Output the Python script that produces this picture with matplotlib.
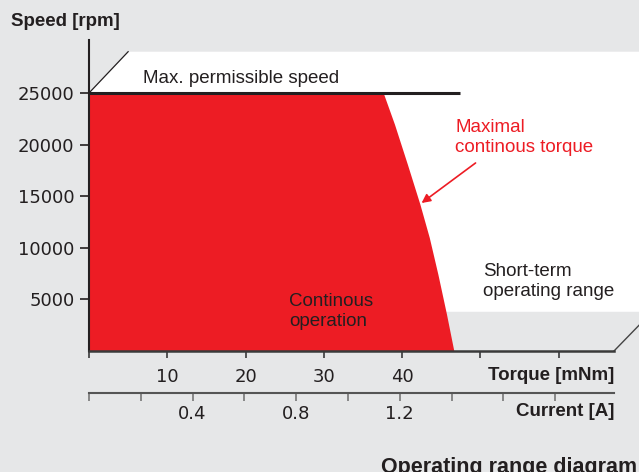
import numpy as np
import matplotlib
matplotlib.use("Agg")
import matplotlib.pyplot as plt

plt.rcParams['font.family'] = ['Liberation Sans', 'DejaVu Sans']

# --- data ---
speed_ticks = [5000, 10000, 15000, 20000, 25000]
speed_labels = ['5000', '10000', '15000', '20000', '25000']
torque_ticks = [0, 10, 20, 30, 40, 50, 60]
torque_labels = ['', '10', '20', '30', '40', '', '']
current_ticks = [0, 0.2, 0.4, 0.6, 0.8, 1.0, 1.2, 1.4, 1.6, 1.8]
current_labels = ['', '', '0.4', '', '0.8', '', '1.2', '', '', '']
torque_per_amp = 33.1  # mNm per A, from the two scales

# continuous operation boundary (torque mNm, speed rpm)
cont_torque = [0, 0, 37.65, 39.1, 40.75, 42.35, 43.55, 44.65, 45.75, 46.68]
cont_speed = [0, 25000, 25000, 21930, 18050, 14180, 10950, 7390, 3520, 0]

max_speed = 25000
max_speed_torque = 47.4

# short-term operating range outline
short_torque = [0, 5, 80, 80, 40]
short_speed = [25000, 29000, 29000, 3800, 3800]

bg = '#e6e7e8'
red = '#ed1c24'
dark = '#231f20'

fig = plt.figure(figsize=(6.39, 4.72), dpi=100, facecolor=bg)
W, H = 639, 472
ax = fig.add_axes([89 / W, (H - 351) / H, (614 - 89) / W, (351 - 40) / H])
ax.set_facecolor('none')
ax.set_xlim(0, 525 / 7.825)
ax.set_ylim(0, 311 / 10.32 * 1000)

ax.fill(short_torque, short_speed, color='white', lw=0, zorder=0, clip_on=False)
ax.fill(cont_torque, cont_speed, color=red, lw=0, zorder=1)
ax.plot([0, max_speed_torque], [max_speed, max_speed], color=dark, lw=2.2, zorder=3,
        solid_capstyle='butt')
# corner bevels
ax.plot([0, 5], [25000, 29000], color=dark, lw=0.9, zorder=2, clip_on=False)
ax.plot([525 / 7.825, 525 / 7.825 + 5], [0, 3900], color='#444444', lw=1.0, clip_on=False)

for s in ['top', 'right']:
    ax.spines[s].set_visible(False)
ax.spines['left'].set_color(dark)
ax.spines['left'].set_linewidth(1.5)
ax.spines['bottom'].set_color('#3a3a3a')
ax.spines['bottom'].set_linewidth(1.8)

ax.set_yticks(speed_ticks)
ax.set_yticklabels(speed_labels, fontfamily='DejaVu Sans', fontsize=13, color=dark)
ax.tick_params(axis='y', length=6.5, width=1.2, color=dark, pad=4)
ax.set_xticks(torque_ticks)
ax.set_xticklabels(torque_labels, fontfamily='DejaVu Sans', fontsize=13, color=dark)
ax.tick_params(axis='x', length=5, width=1.2, color='#3a3a3a', pad=7)

sec = ax.secondary_xaxis(-41.5 / 311, functions=(lambda t: t / torque_per_amp,
                                                 lambda c: c * torque_per_amp))
sec.set_xticks(current_ticks)
sec.set_xticklabels(current_labels, fontfamily='DejaVu Sans', fontsize=13, color=dark)
sec.tick_params(axis='x', length=6, width=1.2, color='#777777', pad=3)
sec.spines['bottom'].set_color('#555555')
sec.spines['bottom'].set_linewidth(1.5)

txt = dict(fontsize=13.5, color=dark, va='center', ha='left')
ax.text(6.95, 26450, 'Max. permissible speed', zorder=4, **txt)
ax.text(50.4, 6730, 'Short-term\noperating range', **txt)
ax.text(25.6, 3830, 'Continous\noperation', **txt)
ax.text(46.8, 20690, 'Maximal\ncontinous torque', fontsize=13.5, color=red,
        va='center', ha='left')
ax.annotate('', xy=(42.5, 14340), xytext=(49.4, 18220),
            arrowprops=dict(arrowstyle='-|>', color=red, lw=1.2, mutation_scale=13,
                            shrinkA=0, shrinkB=0))

bold = dict(fontsize=13.5, fontweight='bold', color=dark, va='center')
fig.text(11 / W, 1 - 22 / H, 'Speed [rpm]', ha='left', **bold)
fig.text(614 / W, 1 - 375 / H, 'Torque [mNm]', ha='right', **bold)
fig.text(614 / W, 1 - 412 / H, 'Current [A]', ha='right', **bold)
fig.text(381 / W, 1 - 473.5 / H, 'Operating range diagram', ha='left',
         fontsize=15.5, fontweight='bold', color=dark, va='baseline')

fig.savefig('out.png', dpi=100, facecolor=bg)
